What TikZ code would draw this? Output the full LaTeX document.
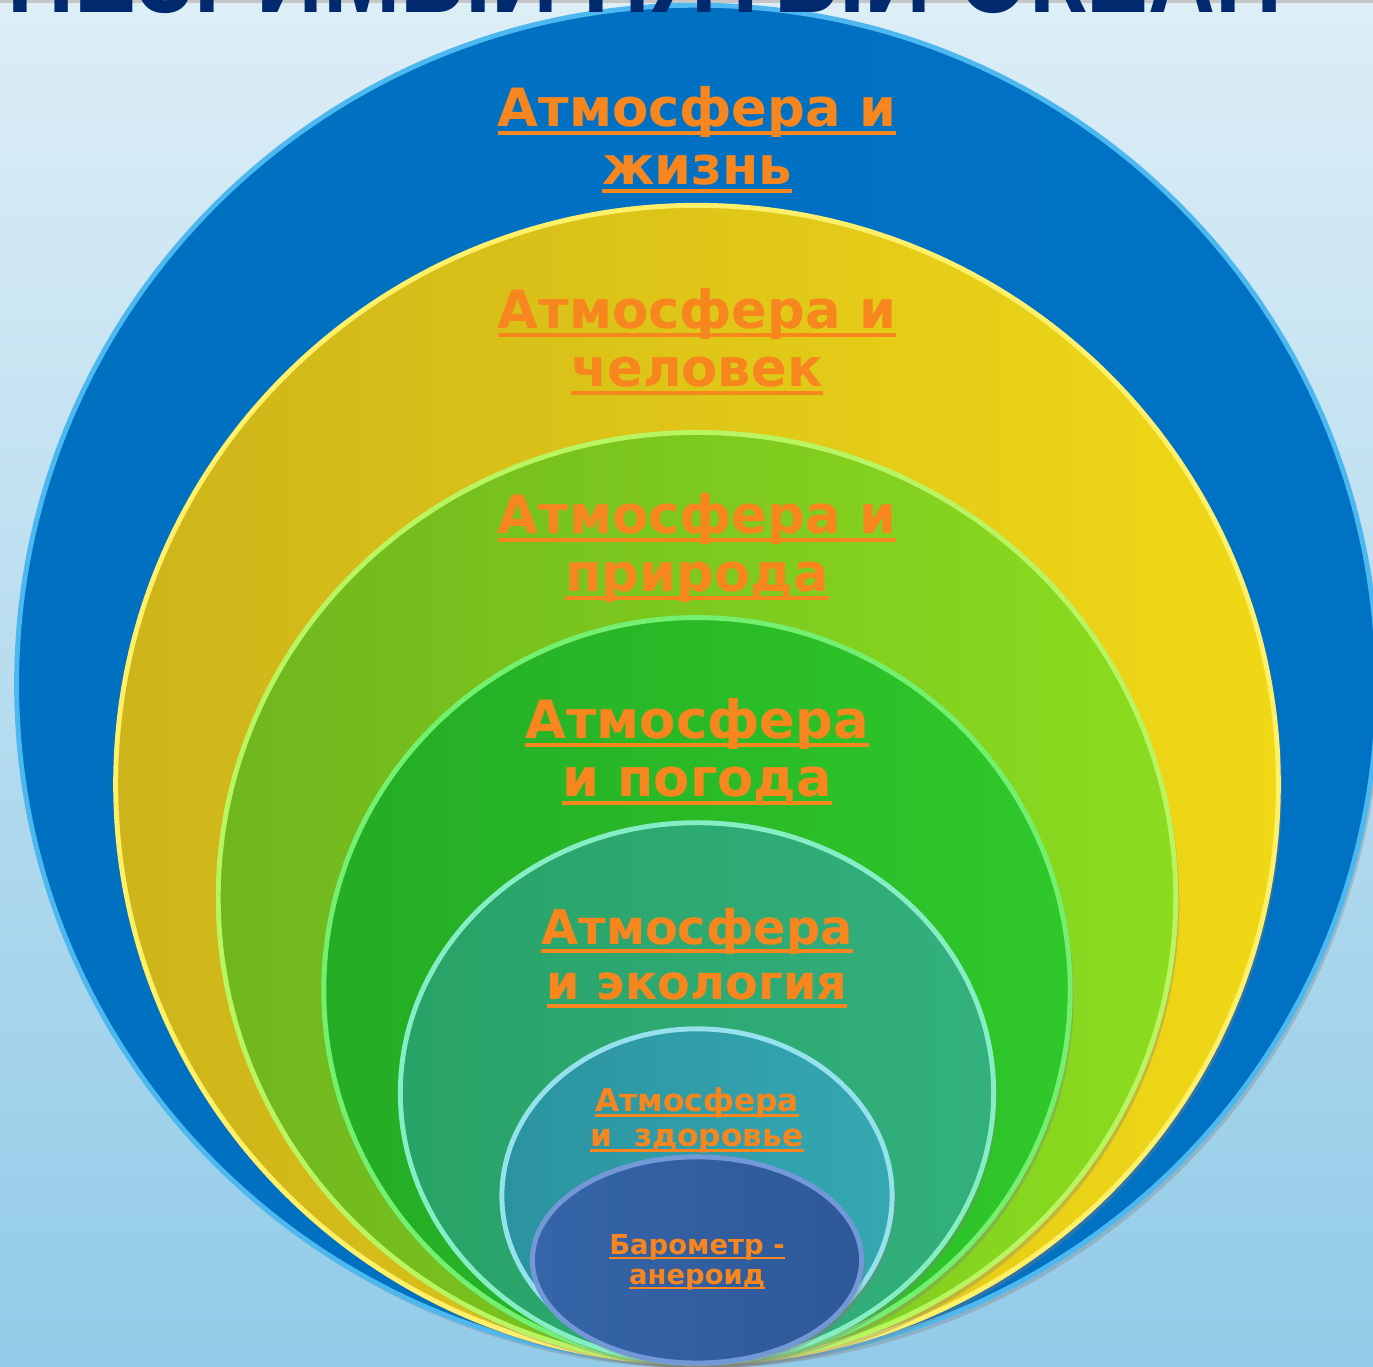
\documentclass[tikz,border=0pt]{standalone}
\usepackage{fontspec}
\setmainfont{DejaVu Sans}
\newfontfamily\titlefont{Liberation Sans}
\usetikzlibrary{positioning, shapes.geometric, shadows}

\definecolor{bgtop}{HTML}{DDEEF6}
\definecolor{bgbot}{HTML}{92CBE8}
\definecolor{titleblue}{HTML}{00296E}
\definecolor{lblorange}{HTML}{F7861E}
\definecolor{blueL}{HTML}{0070C0}
\definecolor{blueR}{HTML}{0072C4}
\definecolor{bluerim}{HTML}{4DB8F0}
\definecolor{yelL}{HTML}{CDB41A}
\definecolor{yelR}{HTML}{F0D816}
\definecolor{yelrim}{HTML}{FFF06A}
\definecolor{lgrL}{HTML}{70B61E}
\definecolor{lgrR}{HTML}{8BDC1F}
\definecolor{lgrrim}{HTML}{B8F560}
\definecolor{grL}{HTML}{24AC25}
\definecolor{grR}{HTML}{2FC82A}
\definecolor{grrim}{HTML}{74F070}
\definecolor{tgL}{HTML}{28A266}
\definecolor{tgR}{HTML}{32B07E}
\definecolor{tgrim}{HTML}{86EEC4}
\definecolor{tlL}{HTML}{2B93A0}
\definecolor{tlR}{HTML}{35A8B2}
\definecolor{tlrim}{HTML}{95E2EC}
\definecolor{dbL}{HTML}{3565A8}
\definecolor{dbR}{HTML}{2E5898}
\definecolor{dbrim}{HTML}{7398D8}

% thick underline, like a slide hyperlink
\newsavebox{\ulbox}
\newcommand{\ulin}[1]{\leavevmode\sbox{\ulbox}{#1}\rlap{\rule[-0.17em]{\wd\ulbox}{0.075em}}\usebox{\ulbox}}

\tikzset{
  ring/.style={ellipse, inner sep=0pt, outer sep=0pt, line width=1.4pt,
    drop shadow={opacity=.35, shadow xshift=1pt, shadow yshift=-1.5pt}},
  lbl/.style={text=lblorange, align=center, inner sep=0pt}
}

\begin{document}
\begin{tikzpicture}[x=0.01cm, y=-0.01cm]
  \useasboundingbox (0,0) rectangle (1373,1366);
  \clip (0,0) rectangle (1373,1366);
  \fill[top color=bgtop, bottom color=bgbot] (0,0) rectangle (1373,1366);

  \coordinate (tl) at (0,1.5);
  \coordinate (tr) at (1373,1.5);
  \draw[gray!45, line width=0.6pt] (tl) -- (tr);

  \coordinate (base) at (697,1363);

  % nested rings, all touching at the bottom
  \node[ring, above=0pt of base, minimum width=13.6cm, minimum height=13.57cm,
        left color=blueL, right color=blueR, draw=bluerim] (e1) {};
  \node[ring, above=0pt of base, minimum width=11.62cm, minimum height=11.57cm,
        left color=yelL, right color=yelR, draw=yelrim] (e2) {};
  \node[ring, above=0pt of base, minimum width=9.57cm, minimum height=9.30cm,
        left color=lgrL, right color=lgrR, draw=lgrrim] (e3) {};
  \node[ring, above=0pt of base, minimum width=7.46cm, minimum height=7.45cm,
        left color=grL, right color=grR, draw=grrim] (e4) {};
  \node[ring, above=0pt of base, minimum width=5.93cm, minimum height=5.40cm,
        left color=tgL, right color=tgR, draw=tgrim] (e5) {};
  \node[ring, above=0pt of base, minimum width=3.90cm, minimum height=3.34cm,
        left color=tlL, right color=tlR, draw=tlrim] (e6) {};
  \node[ring, above=0pt of base, minimum width=3.29cm, minimum height=2.06cm,
        left color=dbL, right color=dbR, draw=dbrim] (e7) {};

  \node[font=\titlefont\bfseries\fontsize{33}{33}\selectfont, text=titleblue,
        xscale=0.8, anchor=base east, inner sep=0pt] (title) at (1283,12) {НЕЗРИМЫЙ ПЯТЫЙ ОКЕАН};

  \node[lbl, below=0.8cm of e1.north, font=\bfseries\fontsize{15}{16.5}\selectfont] (t1)
    {\ulin{Атмосфера и}\\\ulin{жизнь}};
  \node[lbl, below=0.82cm of e2.north, font=\bfseries\fontsize{15}{16.5}\selectfont] (t2)
    {\ulin{Атмосфера и}\\\ulin{человек}};
  \node[lbl, below=0.6cm of e3.north, font=\bfseries\fontsize{15}{16.5}\selectfont] (t3)
    {\ulin{Атмосфера и}\\\ulin{природа}};
  \node[lbl, below=0.8cm of e4.north, font=\bfseries\fontsize{15}{16.5}\selectfont] (t4)
    {\ulin{Атмосфера}\\\ulin{и погода}};
  \node[lbl, below=0.85cm of e5.north, font=\bfseries\fontsize{13.6}{15.6}\selectfont] (t5)
    {\ulin{Атмосфера}\\\ulin{и экология}};
  \node[lbl, below=0.58cm of e6.north, font=\bfseries\fontsize{8.9}{10}\selectfont] (t6)
    {\ulin{Атмосфера}\\\ulin{и~~здоровье}};
  \node[lbl, below=0.77cm of e7.north, font=\bfseries\fontsize{7.8}{8.5}\selectfont] (t7)
    {\ulin{Барометр -}\\\ulin{анероид}};
\end{tikzpicture}
\end{document}
